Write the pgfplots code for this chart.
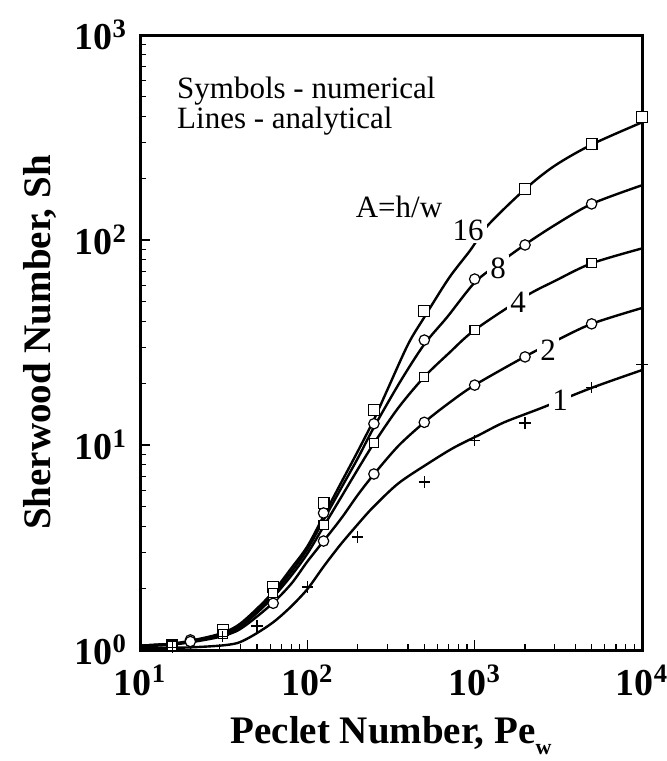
\documentclass[border=0pt]{standalone}
\usepackage{pgfplots}
\pgfplotsset{compat=1.18}
\usepackage{fontspec}
\setmainfont{Liberation Serif}
\begin{document}
\begin{tikzpicture}
\useasboundingbox (-70pt,-55.5pt) rectangle (263.5pt,325pt);
\begin{axis}[
  at={(0,0)}, anchor=south west,
  scale only axis, width=251pt, height=307.5pt,
  xmode=log, ymode=log,
  xmin=10, xmax=10000, ymin=1, ymax=1000,
  axis line style={line width=1.5pt},
  tick pos=left, tick align=inside,
  major tick length=5pt, minor tick length=3pt,
  every tick/.style={black, line width=0.6pt},
  xtick={10,100,1000,10000},
  xticklabels={\textbf{10\textsuperscript{1}},\textbf{10\textsuperscript{2}},\textbf{10\textsuperscript{3}},\textbf{10\textsuperscript{4}}},
  ytick={1,10,100,1000},
  yticklabels={\textbf{10\textsuperscript{0}},\textbf{10\textsuperscript{1}},\textbf{10\textsuperscript{2}},\textbf{10\textsuperscript{3}}},
  ticklabel style={font=\bfseries\fontsize{19}{19}\selectfont},
  yticklabel style={xshift=-3pt},
  xticklabel style={yshift=-4pt},
  xlabel={\textbf{Peclet Number, Pe}\raisebox{-0.6ex}{\fontsize{11}{11}\selectfont\bfseries w}},
  ylabel={\textbf{Sherwood Number, Sh}},
  every axis x label/.style={at={(axis description cs:0.5,-0.152)}, anchor=base, font=\bfseries\fontsize{19.5}{20}\selectfont},
  every axis y label/.style={at={(axis description cs:-0.2,0.5)}, rotate=90, anchor=center, font=\bfseries\fontsize{19.5}{20}\selectfont},
  clip=false,
]
% analytical lines
\addplot[black, line width=1.2pt, smooth] coordinates {
(10,1.05)(15,1.07)(20,1.11)(30,1.2)(40,1.35)(60,1.85)(80,2.5)(100,3.2)(125,4.5)(160,6.6)(200,9.3)(250,13.3)(300,18.5)(400,31)(500,42)(700,65)(940,89)(1200,118)(2000,177)(3000,230)(5000,292)(10000,375)};
\addplot[black, line width=1.2pt, smooth] coordinates {
(10,1.05)(15,1.07)(20,1.1)(30,1.19)(40,1.32)(60,1.8)(80,2.4)(100,3.1)(125,4.3)(160,6.2)(200,8.6)(250,12.2)(358,20.3)(500,31)(684,42)(1000,62)(1400,77)(2000,95)(3000,118)(5000,150)(10000,185)};
\addplot[black, line width=1.2pt, smooth] coordinates {
(10,1.05)(15,1.07)(20,1.1)(30,1.18)(40,1.3)(60,1.75)(80,2.3)(100,2.95)(125,4.0)(160,5.6)(200,7.6)(250,10.2)(350,15.2)(500,21.5)(700,28)(1000,36.4)(2000,53)(3000,63)(5000,77)(10000,91)};
\addplot[black, line width=1.2pt, smooth] coordinates {
(10,1.04)(15,1.06)(20,1.09)(30,1.16)(40,1.27)(60,1.65)(80,2.1)(100,2.7)(125,3.4)(160,4.4)(200,5.7)(250,7.2)(350,9.9)(500,12.9)(700,16)(1000,19.6)(2000,27)(3000,32)(5000,39)(10000,46.6)};
\addplot[black, line width=1.2pt, smooth] coordinates {
(10,1.02)(15,1.025)(20,1.03)(30,1.05)(38,1.08)(45,1.15)(55,1.27)(65,1.4)(80,1.63)(100,1.98)(125,2.55)(157,3.25)(200,4.1)(246,4.95)(350,6.5)(536,8.2)(750,9.7)(1065,11.2)(1500,12.9)(2529,15.2)(5000,19)(10000,23.2)};
% numerical symbols
\addplot[only marks, mark=square*, mark size=2.7pt, mark options={fill=white, draw=black, line width=0.6pt}] coordinates {
(15.625,1.06)(31.25,1.25)(62.5,2.03)(125,5.2)(250,14.8)(500,45)(2000,177)(5000,294)(10000,398)};
\addplot[only marks, mark=*, mark size=2.6pt, mark options={fill=white, draw=black, line width=0.6pt}] coordinates {
(20,1.12)(62.5,1.8)(125,4.66)(250,12.7)(500,32.5)(1000,64.5)(2000,94.6)(5000,150)};
\addplot[only marks, mark=square*, mark size=2.3pt, mark options={fill=white, draw=black, line width=0.6pt}] coordinates {
(15.625,1.05)(31.25,1.2)(62.5,1.9)(125,4.07)(250,10.2)(500,21.5)(1000,36.4)(5000,77)};
\addplot[only marks, mark=*, mark size=2.6pt, mark options={fill=white, draw=black, line width=0.6pt}] coordinates {
(20,1.1)(62.5,1.69)(125,3.4)(250,7.22)(500,12.9)(1000,19.6)(2000,26.9)(5000,39)};
\addplot[only marks, mark=+, mark size=2.8pt, mark options={draw=black, line width=0.6pt}] coordinates {
(15.625,1.03)(31.25,1.16)(50,1.31)(100,2.03)(200,3.56)(500,6.6)(1000,10.5)(2000,12.8)(5000,19.0)(10000,24.6)};
% labels
\node[anchor=west, font=\fontsize{15.5}{18}\selectfont, inner sep=0pt] at (axis cs:16.6,530) {Symbols - numerical};
\node[anchor=west, font=\fontsize{15.5}{18}\selectfont, inner sep=0pt] at (axis cs:16.6,380) {Lines - analytical};
\node[font=\fontsize{15.5}{18}\selectfont, inner sep=0pt] at (axis cs:353,145) {A=h/w};
\node[font=\fontsize{15.5}{18}\selectfont, fill=white, inner sep=1.5pt] at (axis cs:914,112) {16};
\node[font=\fontsize{15.5}{18}\selectfont, fill=white, inner sep=1.5pt] at (axis cs:1380,73) {8};
\node[font=\fontsize{15.5}{18}\selectfont, fill=white, inner sep=1.5pt] at (axis cs:1816,49.9) {4};
\node[font=\fontsize{15.5}{18}\selectfont, fill=white, inner sep=1.5pt] at (axis cs:2750,29.1) {2};
\node[font=\fontsize{15.5}{18}\selectfont, fill=white, inner sep=1.5pt] at (axis cs:3236,16.6) {1};
\end{axis}
\end{tikzpicture}
\end{document}
